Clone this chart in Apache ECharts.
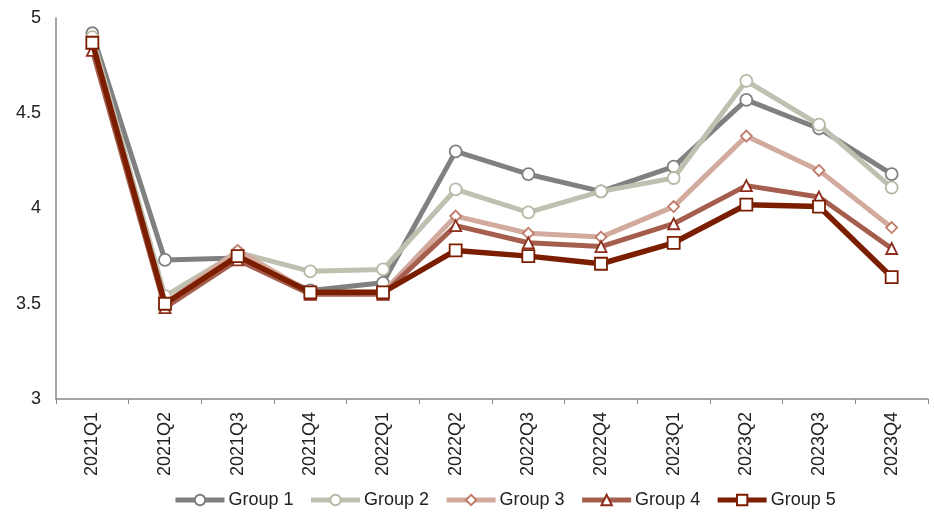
<!DOCTYPE html>
<html>
<head>
<meta charset="utf-8">
<script src="https://cdn.jsdelivr.net/npm/echarts@6/dist/echarts.min.js"></script>
<style>
html,body{margin:0;padding:0;background:#fff;}
#c{width:934px;height:522px;}
</style>
</head>
<body>
<div id="c"></div>
<script>
const categories = ['2021Q1','2021Q2','2021Q3','2021Q4','2022Q1','2022Q2','2022Q3','2022Q4','2023Q1','2023Q2','2023Q3','2023Q4'];
const group1 = [4.92, 3.73, 3.74, 3.57, 3.61, 4.30, 4.18, 4.09, 4.22, 4.57, 4.42, 4.18];
const group2 = [4.90, 3.54, 3.77, 3.67, 3.68, 4.10, 3.98, 4.09, 4.16, 4.67, 4.44, 4.11];
const group3 = [4.87, 3.50, 3.78, 3.56, 3.56, 3.96, 3.87, 3.85, 4.01, 4.38, 4.20, 3.90];
const group4 = [4.83, 3.48, 3.73, 3.55, 3.55, 3.91, 3.82, 3.80, 3.92, 4.12, 4.06, 3.79];
const group5 = [4.87, 3.50, 3.75, 3.56, 3.56, 3.78, 3.75, 3.71, 3.82, 4.02, 4.01, 3.64];
const seriesNames = ['Group 1','Group 2','Group 3','Group 4','Group 5'];
const yTicks = [3, 3.5, 4, 4.5, 5];

const styles = [
  {line:'#808080', border:'#808080', symbol:'circle', size:12, width:5},
  {line:'#C0C0B0', border:'#B8B8A6', symbol:'circle', size:12, width:5},
  {line:'#D3AA9E', border:'#C07A68', symbol:'diamond', size:11, width:5},
  {line:'#A55E4E', border:'#8E2E1C', symbol:'triangle', size:11, width:5},
  {line:'#7B1E00', border:'#7B1E00', symbol:'rect', size:12, width:5.5}
];
const datas = [group1, group2, group3, group4, group5];
const FONT = 'Liberation Sans, Arial, sans-serif';

const chart = echarts.init(document.getElementById('c'), null, {renderer:'canvas'});
chart.setOption({
  animation:false,
  backgroundColor:'#fff',
  textStyle:{fontFamily:FONT},
  grid:{left:56, right:6, top:18, bottom:123, containLabel:false},
  legend:{
    top:486, left:168,
    itemWidth:49, itemHeight:13, itemGap:15,
    lineStyle:{width:5},
    textStyle:{fontSize:18, color:'#222', fontFamily:FONT, padding:[0,0,0,-1]},
    data:seriesNames
  },
  xAxis:{
    type:'category', data:categories, boundaryGap:true,
    axisLine:{lineStyle:{color:'#888', width:1.5}},
    axisTick:{show:true, alignWithLabel:false, length:5, lineStyle:{color:'#888'}},
    axisLabel:{rotate:90, fontSize:18, color:'#222', margin:13, interval:0}
  },
  yAxis:{
    type:'value', min:3, max:5, interval:0.5,
    axisLine:{show:true, lineStyle:{color:'#888', width:1.5}},
    axisTick:{show:false},
    splitLine:{show:false},
    axisLabel:{fontSize:18, color:'#222', margin:15, formatter:v=>String(v)}
  },
  series: datas.map((d,i)=>({
    name:seriesNames[i], type:'line', data:d,
    symbol:styles[i].symbol, symbolSize:styles[i].size, showAllSymbol:true,
    lineStyle:{color:styles[i].line, width:styles[i].width},
    itemStyle:{color:'#fff', borderColor:styles[i].border, borderWidth:1.8},
    emphasis:{disabled:true},
    z:2+i
  }))
});
</script>
</body>
</html>
